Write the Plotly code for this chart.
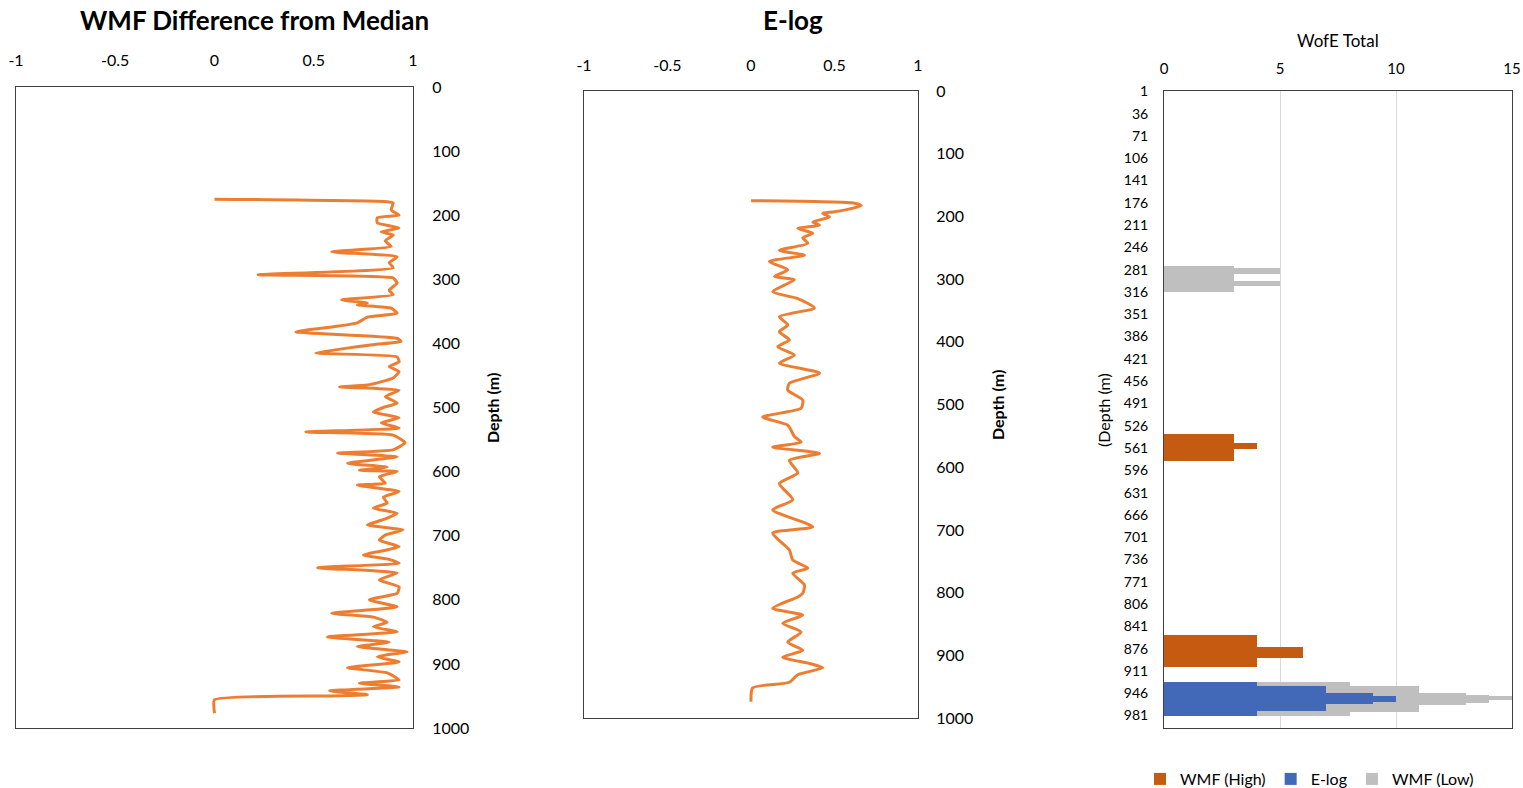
import plotly.graph_objects as go

# ---- WMF difference from median (depth in m, value) ----
wmf_depth = [175, 179, 181, 192, 200, 204, 212, 220, 226, 231, 240, 249, 257, 265, 274, 282, 293, 298,
             306, 317, 324, 332, 337, 340, 345, 353, 359, 368, 374, 382, 392, 397, 402, 415, 421, 429,
             436, 444, 454, 465, 468, 473, 483, 493, 500, 507, 516, 524, 532, 538, 543, 555, 566, 571,
             577, 587, 593, 598, 600, 608, 618, 621, 631, 640, 649, 657, 665, 675, 683, 691, 699, 707,
             717, 724, 730, 737, 743, 750, 758, 769, 780, 790, 800, 811, 821, 827, 835, 842, 850, 858,
             866, 873, 878, 881, 889, 897, 906, 914, 925, 930, 936, 942, 948, 950, 956, 977]
wmf_value = [0.00, 0.87, 0.90, 0.89, 0.93, 0.82, 0.82, 0.93, 0.84, 0.90, 0.86, 0.89, 0.59, 0.92, 0.88, 0.90, 0.22, 0.90,
             0.92, 0.88, 0.90, 0.64, 0.77, 0.72, 0.89, 0.92, 0.77, 0.72, 0.60, 0.41, 0.92, 0.94, 0.80, 0.51, 0.92, 0.93,
             0.88, 0.93, 0.90, 0.77, 0.63, 0.93, 0.86, 0.92, 0.85, 0.80, 0.93, 0.84, 0.93, 0.46, 0.90, 0.96, 0.90, 0.62,
             0.92, 0.67, 0.87, 0.73, 0.92, 0.83, 0.86, 0.72, 0.93, 0.85, 0.87, 0.80, 0.92, 0.85, 0.77, 0.95, 0.86, 0.83,
             0.93, 0.84, 0.75, 0.88, 0.93, 0.52, 0.92, 0.83, 0.93, 0.92, 0.78, 0.92, 0.59, 0.80, 0.87, 0.80, 0.92, 0.57,
             0.88, 0.72, 0.87, 0.97, 0.82, 0.93, 0.67, 0.87, 0.93, 0.73, 0.93, 0.58, 0.77, 0.57, 0.00, 0.00]

# ---- E-log (depth in m, value) ----
elog_depth = [175, 179, 183, 190, 193, 195, 201, 209, 214, 219, 227, 234, 243, 254, 262, 272, 285, 296,
              301, 320, 331, 346, 360, 373, 384, 397, 408, 421, 434, 450, 466, 477, 493, 506, 520, 533,
              551, 560, 568, 578, 589, 609, 626, 652, 668, 695, 705, 732, 748, 761, 769, 788, 801, 807,
              825, 836, 849, 863, 879, 892, 903, 913, 920, 931, 943, 952, 974]
elog_value = [0.00, 0.62, 0.66, 0.56, 0.49, 0.43, 0.47, 0.37, 0.41, 0.28, 0.37, 0.31, 0.34, 0.17, 0.32, 0.11, 0.22, 0.14,
              0.26, 0.13, 0.28, 0.38, 0.17, 0.22, 0.17, 0.23, 0.16, 0.26, 0.17, 0.41, 0.23, 0.22, 0.31, 0.30, 0.07, 0.22,
              0.26, 0.30, 0.13, 0.41, 0.23, 0.28, 0.17, 0.25, 0.13, 0.37, 0.13, 0.23, 0.25, 0.34, 0.25, 0.32, 0.31, 0.28,
              0.13, 0.31, 0.19, 0.30, 0.22, 0.31, 0.19, 0.35, 0.43, 0.28, 0.23, 0.01, 0.00]

# ---- WofE totals per depth interval (top, bottom, score) ----
high_top = [539, 553, 855, 873]
high_bottom = [581, 562, 905, 891]
high_score = [3, 4, 4, 6]

elog_top = [929, 935, 945, 950]
elog_bottom = [981, 974, 963, 959]
elog_score = [4, 7, 9, 10]

low_top = [275, 279, 298, 929, 934, 945, 948, 951]
low_bottom = [316, 287, 307, 981, 976, 964, 961, 957]
low_score = [3, 5, 5, 8, 11, 13, 14, 15]

depth_ticks = list(range(0, 1001, 100))
wofe_depth_labels = [1, 36, 71, 106, 141, 176, 211, 246, 281, 316, 351, 386, 421, 456, 491,
                     526, 561, 596, 631, 666, 701, 736, 771, 806, 841, 876, 911, 946, 981]

FONT = "Lato"
LINE = "#ED7D31"
W, H = 1523, 788


def xd(a, b):
    return [a / W, b / W]


def yd(top, bottom):
    return [1 - bottom / H, 1 - top / H]


def centers(tops, bottoms):
    return [(t + b) / 2 for t, b in zip(tops, bottoms)]


def widths(tops, bottoms):
    return [b - t for t, b in zip(tops, bottoms)]


fig = go.Figure()

fig.add_trace(go.Scatter(x=wmf_value, y=wmf_depth, mode="lines", xaxis="x", yaxis="y",
                         line=dict(color=LINE, width=3, shape="spline", smoothing=0.45),
                         showlegend=False))
fig.add_trace(go.Scatter(x=elog_value, y=elog_depth, mode="lines", xaxis="x2", yaxis="y2",
                         line=dict(color=LINE, width=3, shape="spline", smoothing=0.6),
                         showlegend=False))

bar_sets = [
    ("WMF (Low)", "#BFBFBF", low_top, low_bottom, low_score, 3),
    ("WMF (High)", "#C55A11", high_top, high_bottom, high_score, 1),
    ("E-log", "#4169B8", elog_top, elog_bottom, elog_score, 2),
]
for name, color, tops, bottoms, scores, rank in bar_sets:
    fig.add_trace(go.Bar(x=scores, y=centers(tops, bottoms), width=widths(tops, bottoms),
                         orientation="h", xaxis="x3", yaxis="y3", name=name,
                         marker=dict(color=color, line=dict(width=0)), opacity=1,
                         legendrank=rank))

frame = dict(showline=True, linecolor="#404040", linewidth=1, mirror=True,
             showgrid=False, zeroline=False, ticks="", automargin=False,
             tickfont=dict(family=FONT, size=16, color="#000000"))

fig.update_layout(
    width=W, height=H, margin=dict(l=0, r=0, t=0, b=0, autoexpand=False),
    paper_bgcolor="white", plot_bgcolor="white",
    barmode="overlay", bargap=0,
    font=dict(family=FONT, color="#000000"),
    xaxis=dict(frame, domain=xd(16, 413), anchor="y", side="top", range=[-1, 1],
               tickvals=[-1, -0.5, 0, 0.5, 1], ticktext=["-1", "-0.5", "0", "0.5", "1"],
               ticklabelstandoff=14),
    yaxis=dict(frame, domain=yd(87, 728), anchor="x", side="right", range=[1000, 0],
               tickvals=depth_ticks, ticklabelstandoff=15),
    xaxis2=dict(frame, domain=xd(584, 918), anchor="y2", side="top", range=[-1, 1],
                tickvals=[-1, -0.5, 0, 0.5, 1], ticktext=["-1", "-0.5", "0", "0.5", "1"],
                ticklabelstandoff=13),
    yaxis2=dict(frame, domain=yd(91, 718), anchor="x2", side="right", range=[1000, 0],
                tickvals=depth_ticks, ticklabelstandoff=14),
    xaxis3=dict(frame, domain=xd(1164, 1512), anchor="y3", side="top", range=[0, 15],
                tickvals=[0, 5, 10, 15], showgrid=True, gridcolor="#D9D9D9", gridwidth=1,
                ticklabelstandoff=10, tickfont=dict(family=FONT, size=15, color="#000000")),
    yaxis3=dict(frame, domain=yd(91, 728), anchor="x3", side="left", range=[1000.5, 0.5],
                tickvals=wofe_depth_labels, ticklabelstandoff=12,
                tickfont=dict(family=FONT, size=14, color="#000000")),
    legend=dict(orientation="h", x=1140 / W, xanchor="left", y=1 - 779 / H, yanchor="middle",
                font=dict(family=FONT, size=16, color="#000000"), itemwidth=30,
                bgcolor="rgba(0,0,0,0)", tracegroupgap=0),
)

annotations = [
    dict(text="<b>WMF Difference from Median</b>", x=254 / W, y=1 - 20 / H, size=26),
    dict(text="<b>E-log</b>", x=793 / W, y=1 - 20 / H, size=26),
    dict(text="WofE Total", x=1338 / W, y=1 - 41 / H, size=17),
]
for a in annotations:
    fig.add_annotation(text=a["text"], x=a["x"], y=a["y"], xref="paper", yref="paper",
                       showarrow=False, xanchor="center", yanchor="middle",
                       font=dict(family=FONT, size=a["size"], color="#000000"))

side_titles = [
    ("<b>Depth (m)</b>", 492, 408, 16),
    ("<b>Depth (m)</b>", 997, 405, 16),
    ("(Depth (m)", 1104, 410, 16),
]
for text, px, py, size in side_titles:
    fig.add_annotation(text=text, x=px / W, y=1 - py / H, xref="paper", yref="paper",
                       showarrow=False, textangle=-90, xanchor="center", yanchor="middle",
                       font=dict(family=FONT, size=size, color="#000000"))

fig.write_html("out.html")
